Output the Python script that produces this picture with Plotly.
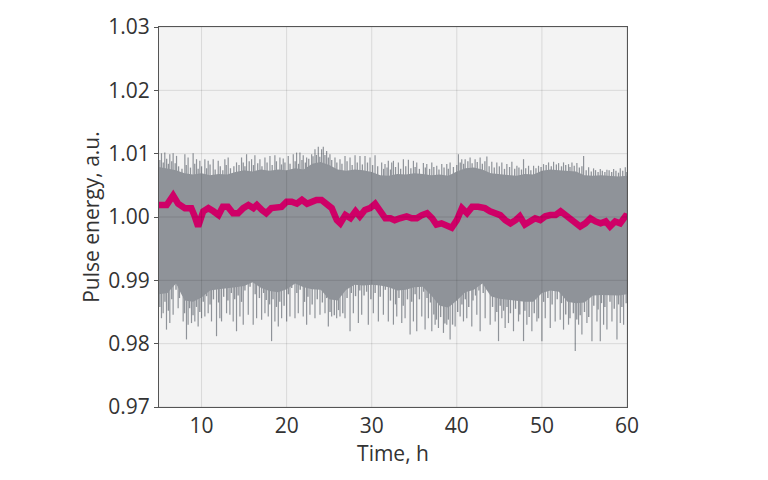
import plotly.graph_objects as go

# ---------------- data ----------------
hours = list(range(5, 61))
upper_core = [1.0079, 1.0077, 1.0074, 1.0069, 1.0067, 1.0069, 1.0066, 1.0068, 1.0067, 1.0071,
              1.0074, 1.0072, 1.0075, 1.0073, 1.0075, 1.0074, 1.0077, 1.0075, 1.0084, 1.0087,
              1.0082, 1.0075, 1.0073, 1.0075, 1.0074, 1.0071, 1.0066, 1.0065, 1.0068, 1.0067,
              1.0069, 1.0068, 1.0066, 1.0067, 1.0065, 1.0072, 1.0077, 1.0078, 1.0075, 1.0069,
              1.0068, 1.0067, 1.0065, 1.0068, 1.0067, 1.0073, 1.0075, 1.0074, 1.0073, 1.0072,
              1.0066, 1.0065, 1.0066, 1.0065, 1.0064, 1.0065]
lower_core = [0.9878, 0.9880, 0.9895, 0.9868, 0.9866, 0.9873, 0.9884, 0.9886, 0.9888, 0.9889,
              0.9891, 0.9897, 0.9888, 0.9883, 0.9881, 0.9886, 0.9895, 0.9889, 0.9886, 0.9885,
              0.9870, 0.9868, 0.9885, 0.9893, 0.9892, 0.9893, 0.9892, 0.9889, 0.9884, 0.9885,
              0.9889, 0.9890, 0.9876, 0.9860, 0.9857, 0.9868, 0.9881, 0.9885, 0.9895, 0.9875,
              0.9871, 0.9870, 0.9868, 0.9866, 0.9866, 0.9880, 0.9884, 0.9882, 0.9866, 0.9864,
              0.9865, 0.9876, 0.9877, 0.9877, 0.9876, 0.9878]

# tall spikes above the band (hour, value)
upper_spikes = [(5.29, 1.01006), (5.68, 1.01017), (6.27, 1.00991), (6.66, 1.01006), (7.06, 1.00965),
                (8.04, 1.00991), (8.42, 1.0094), (9.01, 1.01006), (9.41, 1.00913), (9.8, 1.00887),
                (10.39, 1.00913), (10.78, 1.00887), (11.37, 1.00913), (11.96, 1.00887), (12.74, 1.00913),
                (13.13, 1.0094), (14.11, 1.00862), (14.7, 1.0094), (15.29, 1.00991), (15.88, 1.00913),
                (16.27, 1.00975), (16.86, 1.00913), (17.45, 1.0094), (18.04, 1.00965), (18.62, 1.00975),
                (19.21, 1.0094), (19.6, 1.00924), (20.19, 1.00965), (20.78, 1.00991), (21.17, 1.01017),
                (21.56, 1.01017), (21.95, 1.00975), (22.35, 1.0094), (22.94, 1.00991), (23.33, 1.01068),
                (23.72, 1.0111), (24.11, 1.01068), (24.31, 1.0111), (24.7, 1.01042), (25.09, 1.00991),
                (25.68, 1.0094), (26.27, 1.00913), (26.86, 1.00965), (27.45, 1.0094), (28.04, 1.00975),
                (28.62, 1.00965), (29.21, 1.00965), (29.8, 1.0094), (30.39, 1.00975), (31.17, 1.00862),
                (31.56, 1.00835), (31.95, 1.00887), (32.35, 1.00862), (32.55, 1.00887), (33.13, 1.00862),
                (33.72, 1.00913), (34.31, 1.00903), (34.9, 1.00887), (35.29, 1.00862), (36.07, 1.00851),
                (36.47, 1.00835), (37.06, 1.00862), (37.64, 1.00809), (38.23, 1.00835), (38.82, 1.00835),
                (39.21, 1.00862), (40.19, 1.00991), (40.58, 1.00913), (40.98, 1.00913), (41.56, 1.0094),
                (42.15, 1.00913), (42.74, 1.0094), (43.53, 1.00955), (44.11, 1.00872), (44.7, 1.00862),
                (45.29, 1.00862), (45.88, 1.00835), (46.47, 1.00872), (47.06, 1.00809), (47.84, 1.00913),
                (48.43, 1.00809), (49.02, 1.00809), (49.6, 1.00809), (50.19, 1.00835), (50.78, 1.00862),
                (51.37, 1.00872), (51.96, 1.00851), (52.54, 1.00862), (53.13, 1.00835), (53.53, 1.00862),
                (54.11, 1.00851), (54.9, 1.00965), (55.49, 1.00784), (56.07, 1.00768), (56.86, 1.00758),
                (57.64, 1.00747), (58.43, 1.00758), (59.21, 1.00768), (59.8, 1.00784)]

# shorter spikes on the top edge (hour, value)
upper_short = [(5.1, 1.0090), (5.5, 1.0086), (5.9, 1.0092), (6.1, 1.0084), (6.5, 1.0088), (6.9, 1.0085),
               (7.3, 1.0080), (7.7, 1.0076), (8.2, 1.0082), (8.7, 1.0078), (9.2, 1.0084), (9.6, 1.0076),
               (10.0, 1.0080), (10.6, 1.0077), (11.0, 1.0083), (11.6, 1.0075), (12.2, 1.0080), (12.5, 1.0074),
               (12.9, 1.0082), (13.4, 1.0077), (13.8, 1.0080), (14.4, 1.0082), (14.9, 1.0086), (15.1, 1.0080),
               (15.6, 1.0088), (16.1, 1.0082), (16.6, 1.0085), (17.1, 1.0080), (17.7, 1.0086), (18.3, 1.0082),
               (18.8, 1.0088), (19.4, 1.0083), (19.8, 1.0086), (20.4, 1.0084), (21.0, 1.0088), (21.4, 1.0084),
               (21.8, 1.0090), (22.2, 1.0086), (22.6, 1.0092), (23.1, 1.0096), (23.5, 1.0098), (23.9, 1.0095),
               (24.5, 1.0098), (24.9, 1.0094), (25.3, 1.0090), (25.9, 1.0086), (26.5, 1.0084), (27.1, 1.0088),
               (27.7, 1.0082), (28.3, 1.0086), (28.9, 1.0083), (29.5, 1.0086), (30.1, 1.0082), (30.7, 1.0080),
               (31.4, 1.0076), (31.8, 1.0078), (32.2, 1.0075), (32.8, 1.0079), (33.4, 1.0076), (34.0, 1.0080),
               (34.6, 1.0077), (35.1, 1.0079), (35.6, 1.0076), (36.3, 1.0078), (36.8, 1.0076), (37.3, 1.0079),
               (37.9, 1.0075), (38.5, 1.0078), (39.0, 1.0076), (39.6, 1.0079), (40.0, 1.0082), (40.4, 1.0086),
               (40.8, 1.0084), (41.3, 1.0088), (41.8, 1.0085), (42.4, 1.0087), (43.0, 1.0084), (43.3, 1.0088),
               (43.8, 1.0080), (44.4, 1.0078), (45.0, 1.0080), (45.6, 1.0076), (46.2, 1.0079), (46.8, 1.0076),
               (47.3, 1.0078), (47.6, 1.0075), (48.1, 1.0077), (48.7, 1.0074), (49.3, 1.0077), (49.9, 1.0079),
               (50.5, 1.0082), (51.1, 1.0080), (51.7, 1.0083), (52.3, 1.0080), (52.8, 1.0082), (53.3, 1.0079),
               (53.8, 1.0081), (54.4, 1.0078), (54.7, 1.0080), (55.2, 1.0074), (55.8, 1.0072), (56.3, 1.0074),
               (56.6, 1.0071), (57.1, 1.0073), (57.4, 1.0071), (57.9, 1.0074), (58.2, 1.0071), (58.7, 1.0073),
               (59.0, 1.0070), (59.5, 1.0073), (59.9, 1.0071)]

# long spikes below the band (hour, value)
lower_spikes = [(5.29, 0.98402), (5.49, 0.98480), (5.88, 0.98222), (6.27, 0.98325), (6.66, 0.98455),
                (7.25, 0.98558), (7.84, 0.98351), (8.23, 0.98067), (8.42, 0.98300), (8.82, 0.98325),
                (9.21, 0.98351), (9.6, 0.98273), (10.0, 0.98402), (10.39, 0.98429), (10.78, 0.98480),
                (11.17, 0.98351), (11.76, 0.98118), (12.15, 0.98402), (12.35, 0.98351), (12.94, 0.98480),
                (13.33, 0.98455), (13.72, 0.98351), (14.11, 0.98196), (14.51, 0.98429), (14.9, 0.98300),
                (15.49, 0.98455), (16.07, 0.98300), (16.47, 0.98402), (17.06, 0.98377), (17.45, 0.98480),
                (17.84, 0.98429), (18.23, 0.98040), (18.62, 0.98351), (19.02, 0.98273), (19.41, 0.98402),
                (20.0, 0.98351), (20.39, 0.98429), (20.98, 0.98402), (21.37, 0.98480), (21.95, 0.98429),
                (22.35, 0.98300), (22.74, 0.98455), (23.33, 0.98402), (23.92, 0.98455), (24.51, 0.98480),
                (24.9, 0.98273), (25.29, 0.98429), (25.88, 0.98402), (26.27, 0.98429), (26.86, 0.98402),
                (27.45, 0.98196), (27.84, 0.98480), (28.43, 0.98325), (28.82, 0.98455), (29.6, 0.98300),
                (30.19, 0.98480), (30.78, 0.98351), (31.37, 0.98455), (31.95, 0.98351), (32.55, 0.98300),
                (32.94, 0.98429), (33.53, 0.98325), (33.92, 0.98402), (34.51, 0.98144), (34.9, 0.98351),
                (35.29, 0.98196), (35.88, 0.98429), (36.27, 0.98222), (36.66, 0.98402), (37.06, 0.98196),
                (37.45, 0.98300), (37.84, 0.98247), (38.43, 0.98170), (38.82, 0.98300), (39.21, 0.98067),
                (39.8, 0.98273), (40.39, 0.98429), (40.78, 0.98351), (41.17, 0.98402), (41.76, 0.98273),
                (42.35, 0.98455), (42.74, 0.98196), (43.33, 0.98402), (43.92, 0.98300), (44.51, 0.98351),
                (44.9, 0.98040), (45.29, 0.98402), (45.68, 0.98247), (46.07, 0.98325), (46.66, 0.98196),
                (47.25, 0.98351), (47.84, 0.98040), (48.23, 0.98300), (48.82, 0.98196), (49.41, 0.98351),
                (50.0, 0.98040), (50.39, 0.98402), (50.98, 0.98247), (51.56, 0.98351), (52.15, 0.98377),
                (52.54, 0.98222), (53.13, 0.98300), (53.92, 0.97885), (54.31, 0.98300), (54.7, 0.98144),
                (55.29, 0.98325), (55.88, 0.98040), (56.47, 0.98351), (56.86, 0.98040), (57.25, 0.98300),
                (57.64, 0.98222), (58.23, 0.98351), (58.82, 0.98067), (59.21, 0.98325), (59.6, 0.98300)]

# shorter spikes on the bottom edge (hour, value)
lower_short = [(5.1, 0.9858), (5.7, 0.9866), (6.1, 0.9852), (6.5, 0.9870), (7.0, 0.9885), (7.4, 0.9872),
               (8.0, 0.9848), (8.6, 0.9856), (9.0, 0.9845), (9.4, 0.9858), (9.8, 0.9850), (10.2, 0.9866),
               (10.6, 0.9875), (11.0, 0.9862), (11.4, 0.9870), (12.0, 0.9865), (12.6, 0.9874), (13.1, 0.9868),
               (13.5, 0.9880), (13.9, 0.9870), (14.3, 0.9876), (14.7, 0.9866), (15.1, 0.9884), (15.7, 0.9890),
               (16.3, 0.9878), (16.8, 0.9872), (17.3, 0.9880), (17.6, 0.9869), (18.0, 0.9862), (18.4, 0.9870),
               (18.8, 0.9858), (19.2, 0.9866), (19.7, 0.9860), (20.2, 0.9878), (20.6, 0.9888), (21.2, 0.9880),
               (21.6, 0.9885), (22.1, 0.9866), (22.5, 0.9874), (23.0, 0.9862), (23.6, 0.9870), (24.2, 0.9865),
               (24.7, 0.9872), (25.1, 0.9850), (25.6, 0.9845), (26.1, 0.9853), (26.6, 0.9848), (27.1, 0.9872),
               (27.6, 0.9880), (28.1, 0.9875), (28.6, 0.9884), (29.1, 0.9876), (29.4, 0.9882), (29.9, 0.9870),
               (30.4, 0.9880), (31.0, 0.9874), (31.6, 0.9885), (32.2, 0.9868), (32.8, 0.9862), (33.2, 0.9872),
               (33.7, 0.9860), (34.2, 0.9870), (34.7, 0.9866), (35.1, 0.9878), (35.6, 0.9870), (36.1, 0.9882),
               (36.5, 0.9872), (36.9, 0.9865), (37.3, 0.9846), (37.6, 0.9838), (38.1, 0.9842), (38.6, 0.9832),
               (39.0, 0.9838), (39.5, 0.9830), (40.1, 0.9850), (40.6, 0.9862), (41.0, 0.9870), (41.4, 0.9858),
               (41.9, 0.9868), (42.2, 0.9876), (42.6, 0.9884), (43.1, 0.9880), (43.6, 0.9888), (44.2, 0.9858),
               (44.7, 0.9850), (45.1, 0.9860), (45.5, 0.9852), (45.9, 0.9858), (46.3, 0.9848), (46.9, 0.9855),
               (47.4, 0.9846), (48.0, 0.9852), (48.5, 0.9842), (49.1, 0.9848), (49.6, 0.9840), (50.2, 0.9866),
               (50.7, 0.9872), (51.2, 0.9862), (51.8, 0.9870), (52.3, 0.9864), (52.8, 0.9846), (53.3, 0.9840),
               (53.7, 0.9848), (54.1, 0.9838), (54.5, 0.9845), (55.0, 0.9850), (55.5, 0.9842), (56.1, 0.9860),
               (56.6, 0.9854), (57.0, 0.9864), (57.4, 0.9858), (58.0, 0.9866), (58.5, 0.9855), (59.0, 0.9862),
               (59.4, 0.9858), (59.9, 0.9864)]

avg_h = [5.0, 5.9, 6.66, 7.25, 8.04, 8.8, 9.2, 9.6, 10.2, 10.8, 11.4, 12.0, 12.5, 13.1, 13.7,
         14.3, 14.9, 15.5, 16.1, 16.5, 17.1, 17.6, 18.2, 18.8, 19.4, 20.0, 20.6, 21.2, 21.8,
         22.4, 22.9, 23.5, 24.1, 24.7, 25.3, 25.9, 26.3, 26.9, 27.5, 28.1, 28.6, 29.2, 29.8,
         30.4, 31.0, 31.6, 32.2, 32.7, 33.3, 34.1, 34.7, 35.3, 35.9, 36.5, 37.1, 37.6, 38.2,
         38.8, 39.4, 40.0, 40.6, 41.2, 41.8, 42.5, 43.3, 43.9, 44.5, 45.1, 45.7, 46.3, 46.9,
         47.4, 48.0, 48.6, 49.2, 49.8, 50.4, 51.0, 51.6, 52.2, 52.8, 53.4, 54.0, 54.5, 55.1,
         55.7, 56.3, 56.9, 57.5, 58.0, 58.6, 59.2, 59.8, 60.0]
avg_v = [1.0019, 1.0019, 1.0034, 1.0021, 1.0014, 1.0014, 1.0001, 0.9985, 1.0009, 1.0014,
         1.0009, 1.0003, 1.0016, 1.0016, 1.0006, 1.0006, 1.0014, 1.0019, 1.0014, 1.0019,
         1.0011, 1.0006, 1.0014, 1.0016, 1.0016, 1.0024, 1.0024, 1.0021, 1.0027, 1.0021,
         1.0024, 1.0027, 1.0027, 1.0019, 1.0014, 0.9995, 0.9990, 1.0003, 0.9998, 1.0009,
         1.0001, 1.0011, 1.0014, 1.0021, 1.0009, 0.9998, 0.9998, 0.9995, 0.9998, 1.0001,
         0.9998, 0.9998, 1.0003, 1.0006, 0.9998, 0.9988, 0.9990, 0.9985, 0.9983, 0.9995,
         1.0014, 1.0006, 1.0016, 1.0016, 1.0014, 1.0009, 1.0006, 1.0003, 0.9995, 0.9990,
         0.9995, 1.0001, 0.9988, 0.9993, 0.9998, 0.9995, 1.0001, 1.0003, 1.0003, 1.0009,
         1.0003, 0.9995, 0.9990, 0.9985, 0.9990, 0.9998, 0.9993, 0.9990, 0.9993, 0.9985,
         0.9993, 0.9990, 1.0001, 1.0000]

x_ticks = [10, 20, 30, 40, 50, 60]
y_ticks = [0.97, 0.98, 0.99, 1.00, 1.01, 1.02, 1.03]
y_tick_text = ["0.97", "0.98", "0.99", "1.00", "1.01", "1.02", "1.03"]
x_range = [5, 60]
y_range = [0.97, 1.03]

# ---------------- styles ----------------
GREY = "#8f9399"
MAGENTA = "#cf0067"
TEXT = "#333333"
FONT = "Open Sans"
FSIZE = 21

fig = go.Figure()

# dense core of the raw signal
fig.add_trace(go.Scatter(
    x=hours + hours[::-1], y=upper_core + lower_core[::-1],
    fill="toself", fillcolor=GREY, mode="lines", line=dict(width=0),
    hoverinfo="skip", showlegend=False))


def core_at(h, arr):
    i = min(int(h) - 5, len(arr) - 2)
    f = h - (i + 5)
    return arr[i] + (arr[i + 1] - arr[i]) * f


def spike_xy(pairs, arr, inset):
    xs, ys = [], []
    for h, tip in pairs:
        xs += [h, h, None]
        ys += [core_at(h, arr) + inset, tip, None]
    return xs, ys


for pairs, arr, inset, w in [(upper_short, upper_core, -0.0002, 1.3),
                             (upper_spikes, upper_core, -0.0002, 1.2),
                             (lower_short, lower_core, 0.0002, 1.4),
                             (lower_spikes, lower_core, 0.0002, 1.2)]:
    sx, sy = spike_xy(pairs, arr, inset)
    fig.add_trace(go.Scatter(x=sx, y=sy, mode="lines", line=dict(color=GREY, width=w),
                             hoverinfo="skip", showlegend=False, connectgaps=False))

# moving average
fig.add_trace(go.Scatter(x=avg_h, y=avg_v, mode="lines",
                         line=dict(color=MAGENTA, width=6.5), showlegend=False))

# gridlines drawn above the data (built from tick arrays)
shapes = []
for t in x_ticks:
    shapes.append(dict(type="line", xref="x", yref="paper", x0=t, x1=t, y0=0, y1=1,
                       line=dict(color="rgba(0,0,0,0.11)", width=1), layer="above"))
for t in y_ticks:
    shapes.append(dict(type="line", xref="paper", yref="y", x0=0, x1=1, y0=t, y1=t,
                       line=dict(color="rgba(0,0,0,0.11)", width=1), layer="above"))

fig.update_layout(
    width=768, height=480,
    margin=dict(l=159, r=141, t=21, b=73, pad=0),
    paper_bgcolor="white", plot_bgcolor="#f3f3f3",
    font=dict(family=FONT, size=FSIZE, color=TEXT),
    shapes=shapes,
    showlegend=False,
)
fig.update_xaxes(range=x_range, tickvals=x_ticks, showgrid=False, zeroline=False,
                 showline=True, linecolor="#555555", linewidth=1, mirror=True,
                 ticks="", 
                 title=dict(text="Time, h", standoff=0, font=dict(size=FSIZE, color=TEXT)))
fig.update_yaxes(range=y_range, tickvals=y_ticks, ticktext=y_tick_text, showgrid=False,
                 zeroline=False, showline=True, linecolor="#555555", linewidth=1, mirror=True,
                 ticks="outside", ticklen=4, tickcolor="#555555",
                 title=dict(text="Pulse energy, a.u.", standoff=2, font=dict(size=FSIZE, color=TEXT)))

fig.write_html("out.html")
